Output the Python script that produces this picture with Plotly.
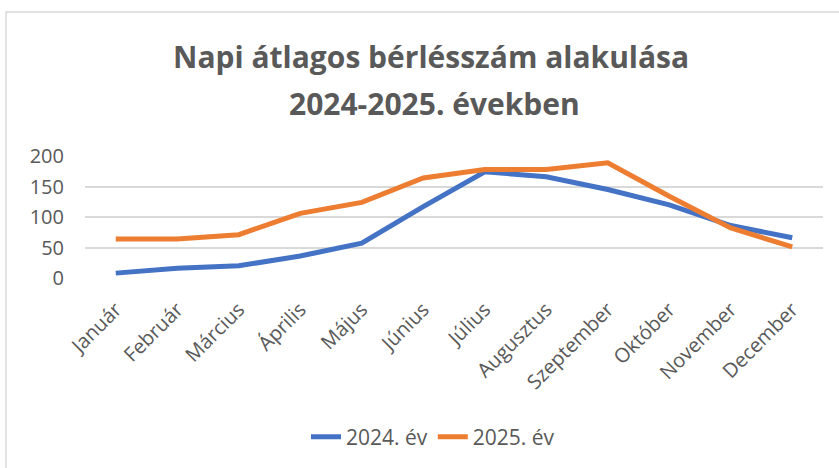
import plotly.graph_objects as go

months = ["Január", "Február", "Március", "Április", "Május", "Június",
          "Július", "Augusztus", "Szeptember", "Október", "November", "December"]
y2024 = [8, 16, 20, 36, 57, 117, 174, 166, 145, 120, 86, 66]
y2025 = [64, 64, 71, 106, 124, 164, 178, 178, 189, 134, 82, 51]
series_names = ["2024. év", "2025. év"]
title_lines = ["Napi átlagos bérlésszám alakulása", "2024-2025. években"]

W, H = 839, 468
ML, MR, MT, MB = 85, 16, 156, 190
PW, PH = W - ML - MR, H - MT - MB
FONT = "Open Sans, Calibri, sans-serif"
GRAY = "#595959"

fig = go.Figure()
fig.add_trace(go.Scatter(x=months, y=y2024, mode="lines", name=series_names[0],
                         line=dict(color="#4472C4", width=5)))
fig.add_trace(go.Scatter(x=months, y=y2025, mode="lines", name=series_names[1],
                         line=dict(color="#ED7D31", width=5)))

def px_x(p):
    return (p - ML) / PW

def px_y(p):
    return (H - MB - p) / PH

annotations = [
    dict(text="<b>" + title_lines[0] + "</b>", xref="paper", yref="paper",
         x=px_x(431), y=px_y(56), xanchor="center", yanchor="middle",
         showarrow=False, font=dict(size=30, color=GRAY, family=FONT)),
    dict(text="<b>" + title_lines[1] + "</b>", xref="paper", yref="paper",
         x=px_x(434), y=px_y(103), xanchor="center", yanchor="middle",
         showarrow=False, font=dict(size=30, color=GRAY, family=FONT)),
]

fig.update_layout(
    width=W, height=H,
    margin=dict(l=ML, r=MR, t=MT, b=MB, autoexpand=False),
    paper_bgcolor="white", plot_bgcolor="white",
    font=dict(family=FONT, color=GRAY),
    annotations=annotations,
    showlegend=True,
    legend=dict(orientation="h", x=px_x(433), xanchor="center",
                y=px_y(437), yanchor="middle",
                font=dict(size=21, color=GRAY, family=FONT),
                traceorder="normal"),
    xaxis=dict(showgrid=False, zeroline=False, showline=False,
               tickangle=-45, tickfont=dict(size=20, color=GRAY, family=FONT),
               ticks="outside", ticklen=11, tickcolor="rgba(0,0,0,0)",
               range=[-0.5, 11.5], automargin=False),
    yaxis=dict(range=[0, 200], tickvals=[0, 50, 100, 150, 200],
               showgrid=True, gridcolor="#D9D9D9", gridwidth=1.5,
               zeroline=False, showline=False,
               tickfont=dict(size=20, color=GRAY, family=FONT),
               ticks="outside", ticklen=16, tickcolor="rgba(0,0,0,0)",
               automargin=False),
    shapes=[dict(type="rect", xref="paper", yref="paper",
                 x0=px_x(6), x1=px_x(850), y0=px_y(12), y1=px_y(480),
                 line=dict(color="#D9D9D9", width=1.5), fillcolor="rgba(0,0,0,0)",
                 layer="below")],
)

fig.write_html("out.html", config={"displayModeBar": False},
               post_script="document.body.style.margin='0';document.body.style.overflow='hidden';")
